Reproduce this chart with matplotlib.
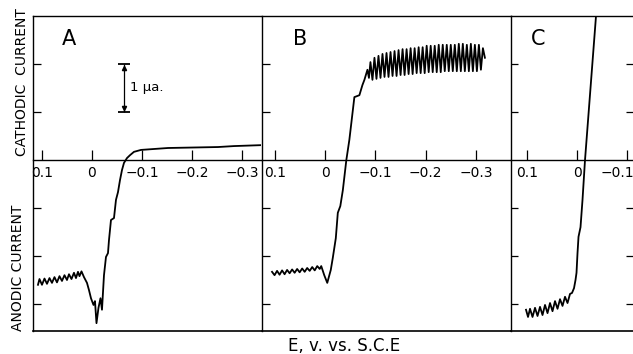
import numpy as np
import matplotlib.pyplot as plt
from matplotlib import transforms

# ------------------------------------------------------------- Dane (E w V vs S.C.E., prad w ua, + katodowy)
E_A = [0.108, 0.105, 0.100, 0.095, 0.090, 0.085, 0.080, 0.075, 0.070, 0.065,
       0.060, 0.055, 0.050, 0.046, 0.041, 0.036, 0.032, 0.028, 0.025, 0.021,
       0.016, 0.010, 0.006, 0.002, -0.003, -0.006, -0.009, -0.013, -0.017, -0.020,
       -0.024, -0.028, -0.032, -0.034, -0.038, -0.044, -0.048, -0.052, -0.056, -0.060,
       -0.064, -0.070, -0.076, -0.084, -0.098, -0.152, -0.252, -0.284, -0.340]
I_A = [-2.60, -2.48, -2.60, -2.47, -2.58, -2.46, -2.56, -2.44, -2.55, -2.42,
       -2.52, -2.40, -2.50, -2.38, -2.48, -2.35, -2.46, -2.33, -2.42, -2.32,
       -2.44, -2.56, -2.71, -2.88, -3.02, -2.94, -3.40, -3.08, -2.88, -3.12,
       -2.40, -2.02, -1.94, -1.67, -1.25, -1.21, -0.83, -0.67, -0.42, -0.21,
       -0.06, 0.04, 0.10, 0.17, 0.21, 0.25, 0.27, 0.29, 0.31]

# B - czesc anodowa i skok
E_B_anod = [0.106, 0.101, 0.096, 0.091, 0.086, 0.081, 0.076, 0.071, 0.066, 0.061,
            0.056, 0.051, 0.046, 0.041, 0.036, 0.031, 0.026, 0.021, 0.016, 0.011,
            0.008, 0.002, -0.004, -0.011, -0.015, -0.021, -0.025, -0.030, -0.035, -0.042,
            -0.048, -0.058, -0.068, -0.074, -0.078]
I_B_anod = [-2.33, -2.40, -2.31, -2.39, -2.30, -2.38, -2.29, -2.36, -2.28, -2.35,
            -2.27, -2.34, -2.26, -2.33, -2.25, -2.31, -2.23, -2.30, -2.21, -2.27,
            -2.21, -2.40, -2.56, -2.29, -2.04, -1.63, -1.10, -0.96, -0.63, 0.0,
            0.42, 1.31, 1.35, 1.56, 1.67]
# B - czesc katodowa (oscylacje kropli)
E_B_kat = [-0.084, -0.087, -0.090, -0.094, -0.098, -0.102, -0.106, -0.110, -0.114, -0.118,
           -0.122, -0.126, -0.130, -0.134, -0.138, -0.142, -0.146, -0.150, -0.154, -0.158,
           -0.162, -0.166, -0.170, -0.174, -0.178, -0.182, -0.186, -0.190, -0.194, -0.198,
           -0.202, -0.206, -0.210, -0.214, -0.218, -0.222, -0.226, -0.230, -0.234, -0.238,
           -0.242, -0.246, -0.250, -0.254, -0.258, -0.262, -0.266, -0.270, -0.274, -0.278,
           -0.282, -0.286, -0.290, -0.294, -0.298, -0.302, -0.306, -0.310, -0.314, -0.318]
I_B_kat = [1.88, 1.71, 2.04, 1.67, 2.13, 1.69, 2.17, 1.71, 2.21, 1.73,
           2.23, 1.73, 2.25, 1.75, 2.27, 1.75, 2.29, 1.77, 2.31, 1.77,
           2.31, 1.79, 2.33, 1.79, 2.33, 1.81, 2.35, 1.81, 2.35, 1.81,
           2.38, 1.83, 2.38, 1.83, 2.38, 1.83, 2.40, 1.83, 2.40, 1.85,
           2.40, 1.85, 2.40, 1.85, 2.40, 1.85, 2.42, 1.85, 2.42, 1.85,
           2.40, 1.85, 2.42, 1.85, 2.40, 1.85, 2.40, 1.88, 2.33, 2.13]

E_C = [0.102, 0.098, 0.094, 0.089, 0.084, 0.079, 0.074, 0.069, 0.064, 0.059,
       0.054, 0.049, 0.044, 0.039, 0.034, 0.029, 0.024, 0.019, 0.014, 0.010,
       0.006, 0.003, 0.001, -0.001, -0.003, -0.007, -0.011, -0.016, -0.038, -0.040]
I_C = [-3.12, -3.27, -3.10, -3.27, -3.08, -3.25, -3.06, -3.23, -3.02, -3.19,
       -2.98, -3.15, -2.94, -3.10, -2.90, -3.04, -2.85, -2.98, -2.79, -2.77,
       -2.67, -2.50, -2.35, -1.94, -1.60, -1.40, -0.83, 0.0, 3.0, 3.17]

TICKS_AB = [0.1, 0, -0.1, -0.2, -0.3]
LABELS_AB = ["0.1", "0", "\u22120.1", "\u22120.2", "\u22120.3"]
TICKS_C = [0.1, 0, -0.1]
LABELS_C = ["0.1", "0", "\u22120.1"]

# ------------------------------------------------------------- Uklad paneli
YLIM = (-3.5625, 3.0)
BOTTOM, HEIGHT = 0.065, 0.8898

panels = [
    # litera, E, I, [left, width], xlim, ticks, labels, pozycja litery
    ("A", E_A, I_A, [0.0521, 0.3602], (0.118, -0.338), TICKS_AB, LABELS_AB, 0.158),
    ("B", np.concatenate([E_B_anod, E_B_kat]), np.concatenate([I_B_anod, I_B_kat]),
     [0.4139, 0.3934], (0.126, -0.370), TICKS_AB, LABELS_AB, 0.153),
    ("C", E_C, I_C, [0.8073, 0.1927], (0.132, -0.112), TICKS_C, LABELS_C, 0.22),
]

plt.rcParams['font.family'] = ['DejaVu Sans']
fig = plt.figure(figsize=(6.33, 3.54), dpi=100)

axes = []
for letter, E, I, (left, width), xl, ticks, labels, lx in panels:
    ax = fig.add_axes([left, BOTTOM, width, HEIGHT])
    ax.plot(E, I, color='black', lw=1.3, solid_joinstyle='round')
    ax.set_xlim(xl)
    ax.set_ylim(YLIM)

    # os x na linii zerowej, ramka dolna osobno
    ax.spines['bottom'].set_position(('data', 0))
    ax.axhline(YLIM[0], color='black', lw=1.2, clip_on=False)
    for s in ax.spines.values():
        s.set_linewidth(1.0)
    ax.spines['right'].set_visible(False)  # prawa krawedz = lewa os sasiada
    ax.set_xticks(ticks, labels)
    ax.tick_params(axis='x', direction='in', length=7, width=0.9, pad=4, labelsize=10)
    ax.set_yticks([-3, -2, -1, 1, 2])
    ax.set_yticklabels([])
    ax.tick_params(axis='y', direction='in', length=6, width=0.9)

    ax.text(lx, 0.928, letter, transform=ax.transAxes, fontsize=15,
            ha='center', va='center')
    axes.append(ax)

# panel C wychodzi poza prawa krawedz - tylko kreski podzialki
axC = axes[2]
axC.tick_params(axis='y', right=True, length=5)
last = axC.get_xticklabels()[-1]
last.set_horizontalalignment('right')
last.set_transform(last.get_transform() + transforms.ScaledTranslation(0.07, 0, fig.dpi_scale_trans))

# ------------------------------------------------------------- Skala 1 ua w panelu A
SCALE_E = -0.064
axA = axes[0]
axA.errorbar([SCALE_E], [1.5], yerr=[0.5], color='black', lw=0.9, capsize=4.5, capthick=1.3)
axA.plot([SCALE_E], [1.92], marker='^', ms=3, color='black')
axA.plot([SCALE_E], [1.08], marker='v', ms=3, color='black')
axA.text(SCALE_E - 0.013, 1.5, "1 \u03bca.", fontsize=9.5, ha='left', va='center')

# ------------------------------------------------------------- Opisy osi
fig.text(0.034, 0.768, "CATHODIC  CURRENT", rotation=90, ha='center', va='center', fontsize=10)
fig.text(0.029, 0.243, "ANODIC CURRENT", rotation=90, ha='center', va='center', fontsize=10)
fig.text(0.5434, 0.023, "E, v. vs. S.C.E", ha='center', va='center', fontsize=12)

fig.savefig("out.png", dpi=100)
